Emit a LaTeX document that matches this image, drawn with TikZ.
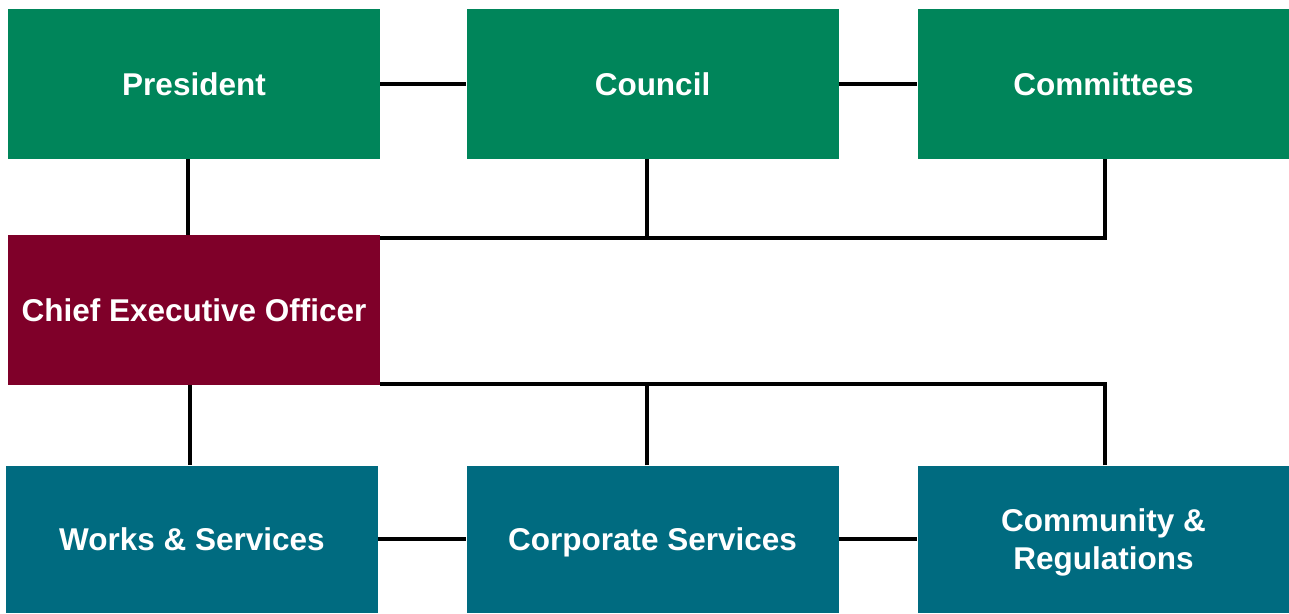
\documentclass[tikz,border=0pt]{standalone}
\usepackage{fontspec}
\setmainfont{Liberation Sans}
\definecolor{boardgreen}{HTML}{00855A}
\definecolor{ceomaroon}{HTML}{7F0029}
\definecolor{deptteal}{HTML}{006B80}
\tikzstyle{bS}=[rectangle,minimum width = 372pt,minimum height = 150pt,inner sep = 0pt,text height = 22.5pt,text depth = 0pt,text=white,font=\fontsize{31.5}{38}\selectfont\bfseries,align=center]
\tikzstyle{bG}=[bS,fill=boardgreen]
\tikzstyle{bC}=[bS,fill=ceomaroon]
\tikzstyle{bD}=[bS,fill=deptteal,minimum height = 147pt]
\tikzstyle{eL}=[line width=4pt,draw=black]

\begin{document}
\begin{tikzpicture}[x=1pt,y=-1pt]
                \useasboundingbox (0,0) rectangle (1289,613);
                \draw (194,84) node[bG] (pres) {President};
                \draw (652.5,84) node[bG] (coun) {Council};
                \draw (1103.5,84) node[bG] (comm) {Committees};
                \draw (194,310) node[bC] (ceo) {Chief Executive Officer};
                \draw (192,539) node[bD] (works) {Works \& Services};
                \draw (652.5,539) node[bD] (corp) {Corporate Services};
                \draw (1103.5,539) node[bD,text height = 60.5pt] (cmty) {Community \&\\Regulations};
                \coordinate (tbus) at ([yshift=-3pt]ceo.north east);
                \coordinate (bbus) at ([yshift=1.5pt]ceo.south east);
                \path
                    (pres) edge[eL] (coun)
                    (coun) edge[eL] (comm)
                    (works) edge[eL] (corp)
                    (corp) edge[eL] (cmty)
                    ([xshift=-6pt]pres.south) edge[eL] ([xshift=-6pt]ceo.north)
                    ([xshift=-4pt]ceo.south) edge[eL] ([xshift=-2pt]works.north)
                ;
                % board bus
                \draw[eL] ([xshift=1pt]comm.south) |- (tbus);
                \draw[eL] ([xshift=-5.5pt]coun.south) -- ([xshift=-5.5pt]coun.south |- tbus);
                % department bus
                \draw[eL] ([xshift=1pt]cmty.north) |- (bbus);
                \draw[eL] ([xshift=-5.5pt]corp.north) -- ([xshift=-5.5pt]corp.north |- bbus);
        \end{tikzpicture}
\end{document}
